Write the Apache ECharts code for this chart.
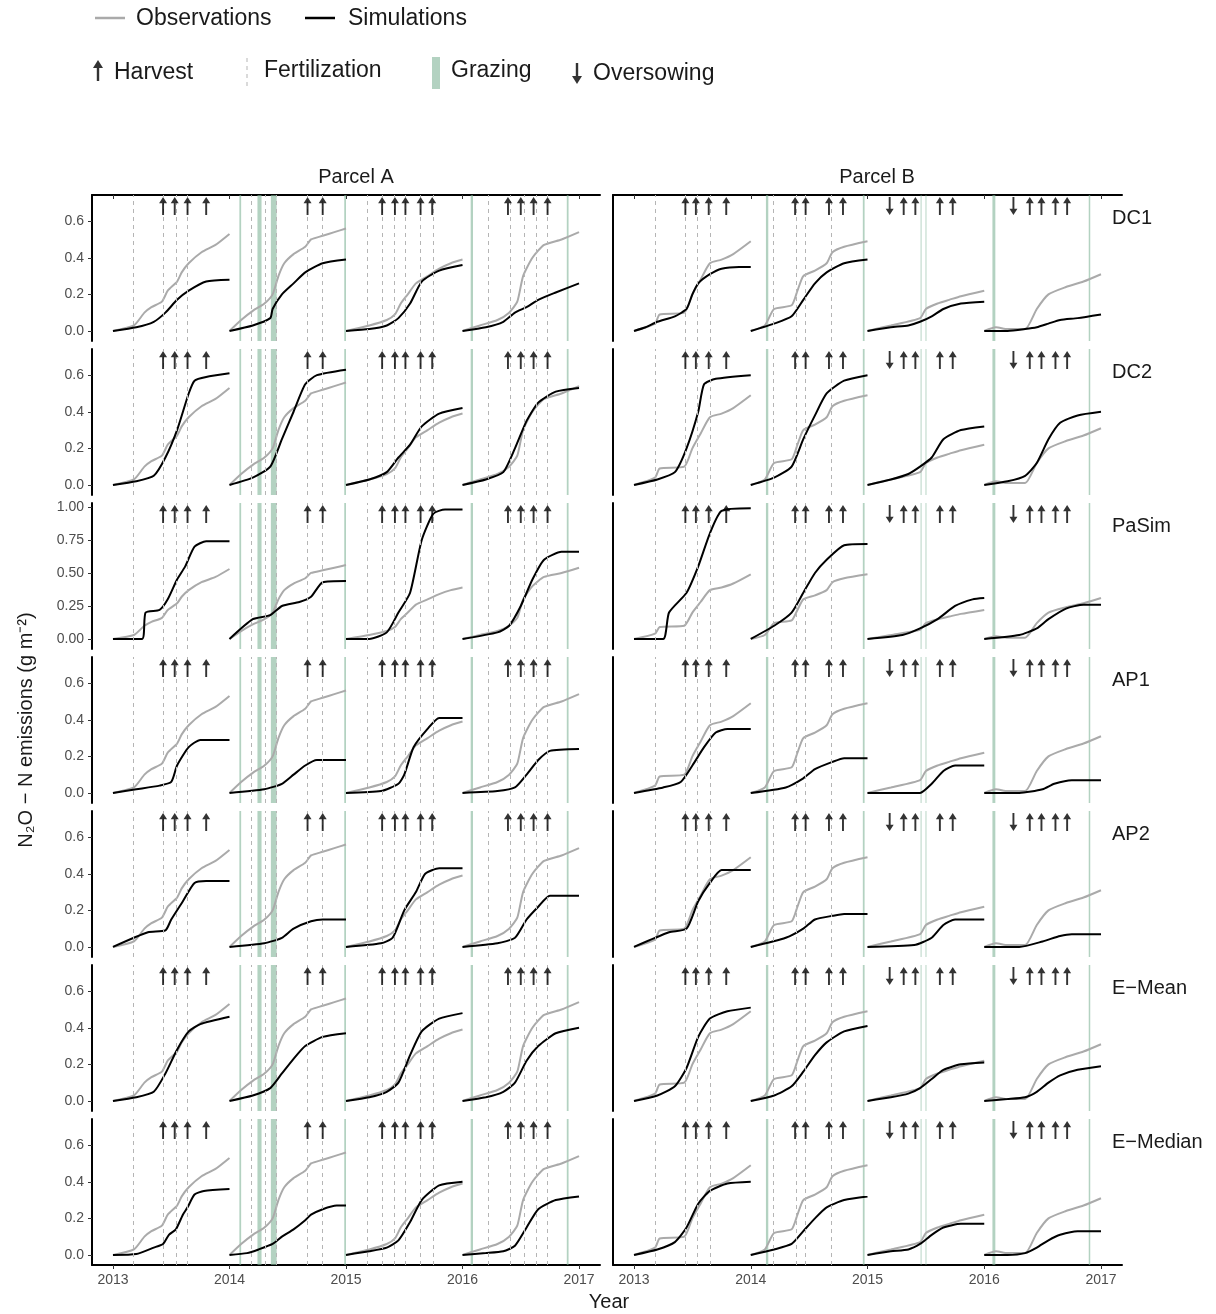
<!DOCTYPE html>
<html>
<head>
<meta charset="utf-8">
<script src="https://cdn.jsdelivr.net/npm/echarts@6/dist/echarts.min.js"></script>
<style>html,body{margin:0;padding:0;background:#fff}#chart{width:1216px;height:1314px}</style>
</head>
<body>
<div id="chart"></div>
<script>
// 年份与模型
var years = [2013, 2014, 2015, 2016];
var models = ['DC1', 'DC2', 'PaSim', 'AP1', 'AP2', 'E\u2212Mean', 'E\u2212Median'];

// 观测值: 每年累计排放 [年内比例, 值]
var obsA = [
  [[0,0],[0.18,0.03],[0.27,0.1],[0.33,0.13],[0.42,0.16],[0.47,0.22],[0.55,0.27],[0.59,0.32],[0.65,0.37],[0.76,0.43],[0.88,0.47],[1,0.53]],
  [[0,0],[0.1,0.06],[0.2,0.11],[0.3,0.15],[0.37,0.2],[0.42,0.3],[0.47,0.37],[0.55,0.42],[0.65,0.46],[0.7,0.5],[0.8,0.52],[0.9,0.54],[1,0.56]],
  [[0,0],[0.2,0.03],[0.35,0.06],[0.42,0.09],[0.47,0.15],[0.53,0.2],[0.6,0.26],[0.7,0.3],[0.8,0.34],[0.9,0.37],[1,0.39]],
  [[0,0],[0.15,0.03],[0.3,0.06],[0.4,0.1],[0.47,0.16],[0.52,0.3],[0.6,0.4],[0.7,0.47],[0.85,0.5],[1,0.54]]
];
var obsB = [
  [[0,0],[0.18,0.04],[0.22,0.09],[0.43,0.1],[0.5,0.2],[0.57,0.28],[0.65,0.37],[0.75,0.39],[0.85,0.42],[1,0.49]],
  [[0,0],[0.12,0.03],[0.2,0.12],[0.35,0.14],[0.4,0.22],[0.45,0.3],[0.55,0.33],[0.65,0.37],[0.7,0.43],[0.8,0.46],[1,0.49]],
  [[0,0],[0.2,0.03],[0.45,0.07],[0.5,0.12],[0.6,0.15],[0.7,0.17],[0.8,0.19],[1,0.22]],
  [[0,0],[0.1,0.02],[0.2,0.01],[0.35,0.01],[0.45,0.12],[0.55,0.2],[0.7,0.24],[0.85,0.27],[1,0.31]]
];

// 模拟值 (每个模型, 每年)
var simA = [
  [[[0,0],[0.2,0.02],[0.35,0.05],[0.45,0.1],[0.55,0.17],[0.65,0.22],[0.8,0.27],[1,0.28]],
   [[0,0],[0.2,0.03],[0.35,0.07],[0.37,0.12],[0.45,0.2],[0.55,0.26],[0.65,0.32],[0.8,0.37],[1,0.39]],
   [[0,0],[0.2,0.01],[0.35,0.03],[0.45,0.07],[0.55,0.15],[0.65,0.27],[0.8,0.33],[1,0.36]],
   [[0,0],[0.2,0.02],[0.35,0.05],[0.45,0.1],[0.55,0.13],[0.65,0.17],[0.8,0.21],[1,0.26]]],
  [[[0,0],[0.2,0.02],[0.35,0.05],[0.45,0.15],[0.55,0.3],[0.65,0.5],[0.7,0.57],[0.8,0.59],[1,0.61]],
   [[0,0],[0.2,0.04],[0.35,0.1],[0.45,0.25],[0.55,0.4],[0.65,0.55],[0.75,0.6],[1,0.63]],
   [[0,0],[0.2,0.03],[0.35,0.07],[0.45,0.15],[0.55,0.22],[0.65,0.32],[0.8,0.39],[1,0.42]],
   [[0,0],[0.2,0.03],[0.35,0.07],[0.45,0.2],[0.55,0.35],[0.65,0.45],[0.8,0.51],[1,0.53]]],
  [[[0,0],[0.25,0],[0.28,0.2],[0.4,0.22],[0.47,0.3],[0.55,0.45],[0.62,0.55],[0.7,0.7],[0.8,0.74],[1,0.74]],
   [[0,0],[0.2,0.15],[0.35,0.18],[0.45,0.25],[0.6,0.28],[0.7,0.32],[0.8,0.43],[1,0.44]],
   [[0,0],[0.2,0],[0.35,0.05],[0.45,0.2],[0.55,0.35],[0.65,0.75],[0.75,0.95],[0.85,0.98],[1,0.98]],
   [[0,0],[0.3,0.05],[0.4,0.1],[0.5,0.25],[0.6,0.45],[0.7,0.6],[0.85,0.66],[1,0.66]]],
  [[[0,0],[0.2,0.02],[0.4,0.04],[0.5,0.06],[0.55,0.15],[0.65,0.25],[0.75,0.29],[1,0.29]],
   [[0,0],[0.3,0.02],[0.45,0.05],[0.55,0.1],[0.65,0.15],[0.75,0.18],[1,0.18]],
   [[0,0],[0.3,0.01],[0.45,0.05],[0.5,0.1],[0.58,0.25],[0.7,0.35],[0.8,0.41],[1,0.41]],
   [[0,0],[0.3,0.01],[0.45,0.03],[0.55,0.1],[0.65,0.18],[0.75,0.23],[1,0.24]]],
  [[[0,0],[0.3,0.08],[0.45,0.09],[0.5,0.15],[0.6,0.25],[0.7,0.35],[0.8,0.36],[1,0.36]],
   [[0,0],[0.3,0.02],[0.45,0.05],[0.55,0.1],[0.7,0.14],[0.8,0.15],[1,0.15]],
   [[0,0],[0.3,0.02],[0.4,0.05],[0.5,0.2],[0.6,0.3],[0.68,0.4],[0.8,0.43],[1,0.43]],
   [[0,0],[0.3,0.02],[0.45,0.05],[0.55,0.15],[0.65,0.22],[0.75,0.28],[1,0.28]]],
  [[[0,0],[0.2,0.02],[0.35,0.05],[0.45,0.15],[0.55,0.28],[0.65,0.38],[0.75,0.42],[1,0.46]],
   [[0,0],[0.2,0.03],[0.35,0.07],[0.45,0.15],[0.55,0.23],[0.65,0.3],[0.8,0.35],[1,0.37]],
   [[0,0],[0.2,0.02],[0.35,0.05],[0.45,0.1],[0.55,0.25],[0.65,0.38],[0.8,0.45],[1,0.48]],
   [[0,0],[0.2,0.02],[0.35,0.05],[0.45,0.1],[0.55,0.22],[0.65,0.3],[0.8,0.37],[1,0.4]]],
  [[[0,0],[0.2,0.005],[0.35,0.04],[0.43,0.06],[0.48,0.11],[0.54,0.14],[0.6,0.22],[0.64,0.26],[0.7,0.33],[0.78,0.35],[1,0.36]],
   [[0,0],[0.15,0.01],[0.25,0.03],[0.37,0.06],[0.45,0.1],[0.55,0.14],[0.65,0.19],[0.7,0.22],[0.8,0.25],[0.92,0.27],[1,0.27]],
   [[0,0],[0.2,0.02],[0.35,0.04],[0.45,0.08],[0.55,0.18],[0.65,0.3],[0.8,0.38],[1,0.4]],
   [[0,0],[0.2,0.01],[0.35,0.02],[0.45,0.05],[0.55,0.15],[0.65,0.25],[0.8,0.3],[1,0.32]]]
];
var simB = [
  [[[0,0],[0.1,0.02],[0.2,0.05],[0.35,0.08],[0.45,0.12],[0.5,0.2],[0.55,0.26],[0.65,0.31],[0.75,0.34],[0.9,0.35],[1,0.35]],
   [[0,0],[0.2,0.04],[0.35,0.08],[0.45,0.17],[0.55,0.26],[0.65,0.32],[0.8,0.37],[1,0.39]],
   [[0,0],[0.2,0.02],[0.35,0.03],[0.45,0.05],[0.55,0.08],[0.65,0.12],[0.8,0.15],[1,0.16]],
   [[0,0],[0.2,0],[0.35,0.01],[0.45,0.02],[0.55,0.04],[0.65,0.06],[0.8,0.07],[1,0.09]]],
  [[[0,0],[0.2,0.03],[0.35,0.07],[0.45,0.2],[0.55,0.4],[0.6,0.55],[0.7,0.58],[1,0.6]],
   [[0,0],[0.2,0.04],[0.35,0.1],[0.45,0.25],[0.55,0.38],[0.65,0.5],[0.8,0.57],[1,0.6]],
   [[0,0],[0.2,0.03],[0.35,0.06],[0.45,0.1],[0.55,0.15],[0.65,0.25],[0.8,0.3],[1,0.32]],
   [[0,0],[0.2,0.02],[0.35,0.05],[0.45,0.12],[0.55,0.25],[0.65,0.34],[0.8,0.38],[1,0.4]]],
  [[[0,0],[0.25,0],[0.3,0.2],[0.45,0.35],[0.55,0.55],[0.65,0.8],[0.75,0.97],[1,0.99]],
   [[0,0],[0.2,0.1],[0.35,0.2],[0.45,0.35],[0.55,0.5],[0.65,0.6],[0.8,0.71],[1,0.72]],
   [[0,0],[0.3,0.03],[0.45,0.08],[0.6,0.15],[0.75,0.25],[0.9,0.3],[1,0.31]],
   [[0,0],[0.3,0.03],[0.45,0.08],[0.55,0.15],[0.7,0.23],[0.85,0.26],[1,0.26]]],
  [[[0,0],[0.25,0.03],[0.4,0.06],[0.5,0.15],[0.6,0.25],[0.7,0.33],[0.8,0.35],[1,0.35]],
   [[0,0],[0.3,0.03],[0.45,0.08],[0.55,0.13],[0.7,0.17],[0.8,0.19],[1,0.19]],
   [[0,0],[0.45,0],[0.55,0.05],[0.65,0.12],[0.75,0.15],[1,0.15]],
   [[0,0],[0.3,0],[0.5,0.02],[0.6,0.05],[0.75,0.07],[1,0.07]]],
  [[[0,0],[0.3,0.08],[0.45,0.1],[0.55,0.25],[0.65,0.35],[0.75,0.42],[1,0.42]],
   [[0,0],[0.3,0.05],[0.45,0.1],[0.55,0.15],[0.7,0.17],[0.8,0.18],[1,0.18]],
   [[0,0],[0.4,0.01],[0.55,0.05],[0.65,0.12],[0.75,0.15],[1,0.15]],
   [[0,0],[0.3,0],[0.5,0.03],[0.65,0.06],[0.75,0.07],[1,0.07]]],
  [[[0,0],[0.2,0.03],[0.35,0.08],[0.45,0.18],[0.55,0.35],[0.65,0.45],[0.8,0.49],[1,0.51]],
   [[0,0],[0.2,0.03],[0.35,0.08],[0.45,0.16],[0.55,0.25],[0.65,0.32],[0.8,0.38],[1,0.41]],
   [[0,0],[0.2,0.02],[0.35,0.04],[0.45,0.07],[0.55,0.12],[0.65,0.17],[0.8,0.2],[1,0.21]],
   [[0,0],[0.2,0.01],[0.35,0.02],[0.45,0.05],[0.55,0.1],[0.65,0.14],[0.8,0.17],[1,0.19]]],
  [[[0,0],[0.2,0.03],[0.35,0.07],[0.45,0.15],[0.55,0.28],[0.65,0.35],[0.8,0.39],[1,0.4]],
   [[0,0],[0.2,0.03],[0.35,0.06],[0.45,0.13],[0.55,0.2],[0.65,0.26],[0.8,0.3],[1,0.32]],
   [[0,0],[0.2,0.02],[0.35,0.03],[0.45,0.06],[0.55,0.11],[0.65,0.15],[0.8,0.17],[1,0.17]],
   [[0,0],[0.2,0],[0.35,0.01],[0.45,0.04],[0.55,0.08],[0.65,0.11],[0.8,0.13],[1,0.13]]]
];

// 管理事件
var fertA = [2013.17,2013.43,2013.54,2013.64,2014.19,2014.31,2014.40,2014.67,2014.80,2015.18,2015.31,2015.41,2015.51,2015.64,2015.75,2016.22,2016.41,2016.53,2016.63,2016.73];
var harvestA = [2013.43,2013.53,2013.64,2013.80,2014.67,2014.80,2015.31,2015.42,2015.51,2015.64,2015.74,2016.39,2016.50,2016.61,2016.73];
var grazeA = [[2014.085,2014.1],[2014.24,2014.275],[2014.355,2014.405],[2014.985,2015.0],[2016.07,2016.09],[2016.895,2016.91]];
var overA = [];
var fertB = [2013.18,2013.44,2013.54,2013.65,2014.19,2014.39,2014.47,2014.69];
var harvestB = [2013.44,2013.53,2013.64,2013.79,2014.38,2014.47,2014.67,2014.79,2015.31,2015.41,2015.62,2015.73,2016.39,2016.49,2016.61,2016.71];
var grazeB = [[2014.13,2014.15],[2014.96,2014.975],[2015.455,2015.463],[2015.497,2015.505],[2016.07,2016.095],[2016.895,2016.908]];
var overB = [2015.19,2016.25];
var yearTicks = [2013, 2014, 2015, 2016, 2017];

var upArrow = 'path://M5,0L10,7L6.2,7L6.2,20L3.8,20L3.8,7L0,7Z';
var downArrow = 'path://M3.8,0L6.2,0L6.2,13L10,13L5,20L0,13L3.8,13Z';

var chart = echarts.init(document.getElementById('chart'));
var grids = [], xAxes = [], yAxes = [], series = [];
var parcels = [
  {left: 92, width: 508, obs: obsA, sim: simA, fert: fertA, harvest: harvestA, graze: grazeA, over: overA},
  {left: 613, width: 509, obs: obsB, sim: simB, fert: fertB, harvest: harvestB, graze: grazeB, over: overB}
];

function toXY(curve, yr) {
  return curve.map(function (p) { return [yr + p[0], p[1]]; });
}

models.forEach(function (m, r) {
  var isPa = (m === 'PaSim');
  var ymin = isPa ? -0.076 : -0.055;
  var ymax = isPa ? 1.03 : 0.743;
  var ticks = isPa ? [0, 0.25, 0.5, 0.75, 1] : [0, 0.2, 0.4, 0.6];
  var arrowY = ymin + (ymax - ymin) * 0.925;
  parcels.forEach(function (pc, p) {
    var gi = grids.length;
    grids.push({left: pc.left, width: pc.width, top: 195 + 154 * r, height: 146});
    var last = (r === models.length - 1);
    xAxes.push({
      type: 'value', gridIndex: gi, min: 2012.82, max: 2017.18,
      position: r === 0 ? 'top' : 'bottom',
      axisLine: {show: r === 0 || last, onZero: false, lineStyle: {color: '#000', width: 2}},
      axisTick: {show: r === 0 || last, inside: r === 0, length: 4, customValues: yearTicks, lineStyle: {color: '#333'}},
      axisLabel: {show: last, customValues: yearTicks, color: '#4d4d4d', fontSize: 14, fontFamily: 'Helvetica, Arial, sans-serif',
        formatter: function (v) { return String(Math.round(v)); }},
      splitLine: {show: false}
    });
    yAxes.push({
      type: 'value', gridIndex: gi, min: ymin, max: ymax,
      axisLine: {show: true, lineStyle: {color: '#000', width: 2}},
      axisTick: {show: p === 0, length: 4, customValues: ticks, lineStyle: {color: '#333'}},
      axisLabel: {show: p === 0, customValues: ticks, color: '#4d4d4d', fontSize: 14, fontFamily: 'Helvetica, Arial, sans-serif',
        formatter: function (v) { return isPa ? v.toFixed(2) : v.toFixed(1); }},
      splitLine: {show: false}
    });
    // 施肥与放牧
    series.push({
      type: 'line', xAxisIndex: gi, yAxisIndex: gi, data: [], silent: true,
      markLine: {symbol: 'none', silent: true, label: {show: false},
        lineStyle: {color: '#b5b5b5', type: [4, 4], width: 1},
        data: pc.fert.map(function (x) { return {xAxis: x}; })},
      markArea: {silent: true, itemStyle: {color: 'rgba(128,180,152,0.6)'},
        data: pc.graze.map(function (g) { return [{xAxis: g[0]}, {xAxis: g[1]}]; })}
    });
    years.forEach(function (yr, k) {
      series.push({type: 'line', xAxisIndex: gi, yAxisIndex: gi, data: toXY(pc.obs[k], yr),
        showSymbol: false, smooth: 0.2, z: 3, lineStyle: {color: '#aaaaaa', width: 2}, silent: true});
      series.push({type: 'line', xAxisIndex: gi, yAxisIndex: gi, data: toXY(pc.sim[r][k], yr),
        showSymbol: false, smooth: 0.2, z: 4, lineStyle: {color: '#000', width: 2}, silent: true});
    });
    series.push({type: 'scatter', xAxisIndex: gi, yAxisIndex: gi, symbol: upArrow, symbolSize: [8, 18],
      itemStyle: {color: '#000'}, silent: true, z: 5,
      data: pc.harvest.map(function (x) { return [x, arrowY]; })});
    series.push({type: 'scatter', xAxisIndex: gi, yAxisIndex: gi, symbol: downArrow, symbolSize: [8, 18],
      itemStyle: {color: '#000'}, silent: true, z: 5,
      data: pc.over.map(function (x) { return [x, arrowY]; })});
  });
});

var font = 'Helvetica, Arial, sans-serif';
function txt(x, y, s, size, align) {
  return {type: 'text', x: x, y: y, style: {text: s, font: size + 'px ' + font, fill: '#1a1a1a', textAlign: align || 'left', textVerticalAlign: 'middle'}};
}
var graphics = [
  {type: 'line', shape: {x1: 95, y1: 18, x2: 125, y2: 18}, style: {stroke: '#aaaaaa', lineWidth: 2.5}},
  txt(136, 19, 'Observations', 23),
  {type: 'line', shape: {x1: 305, y1: 18, x2: 335, y2: 18}, style: {stroke: '#000', lineWidth: 2.5}},
  txt(348, 19, 'Simulations', 23),
  {type: 'polygon', shape: {points: [[93,68],[98,60],[103,68],[99.2,68],[99.2,81],[96.8,81],[96.8,68]]}, style: {fill: '#333'}},
  txt(114, 73, 'Harvest', 23),
  {type: 'line', shape: {x1: 247, y1: 58, x2: 247, y2: 90}, style: {stroke: '#b5b5b5', lineWidth: 1, lineDash: [4, 4]}},
  txt(264, 71, 'Fertilization', 23),
  {type: 'rect', shape: {x: 432, y: 57, width: 8, height: 32}, style: {fill: 'rgba(128,180,152,0.6)'}},
  txt(451, 71, 'Grazing', 23),
  {type: 'polygon', shape: {points: [[575.8,63],[578.2,63],[578.2,76],[582,76],[577,84],[572,76],[575.8,76]]}, style: {fill: '#333'}},
  txt(593, 74, 'Oversowing', 23),
  txt(356, 177, 'Parcel A', 20, 'center'),
  txt(877, 177, 'Parcel B', 20, 'center'),
  txt(609, 1302, 'Year', 20, 'center'),
  {type: 'text', x: 26, y: 730, rotation: Math.PI / 2,
    style: {text: 'N\u2082O \u2212 N emissions (g m\u207B\u00B2)', font: '20px ' + font, fill: '#1a1a1a', textAlign: 'center', textVerticalAlign: 'middle'}}
];
models.forEach(function (m, r) {
  graphics.push(txt(1112, 218 + 154 * r, m, 20));
});

chart.setOption({
  animation: false,
  backgroundColor: '#fff',
  grid: grids, xAxis: xAxes, yAxis: yAxes, series: series,
  graphic: graphics
});
</script>
</body>
</html>
